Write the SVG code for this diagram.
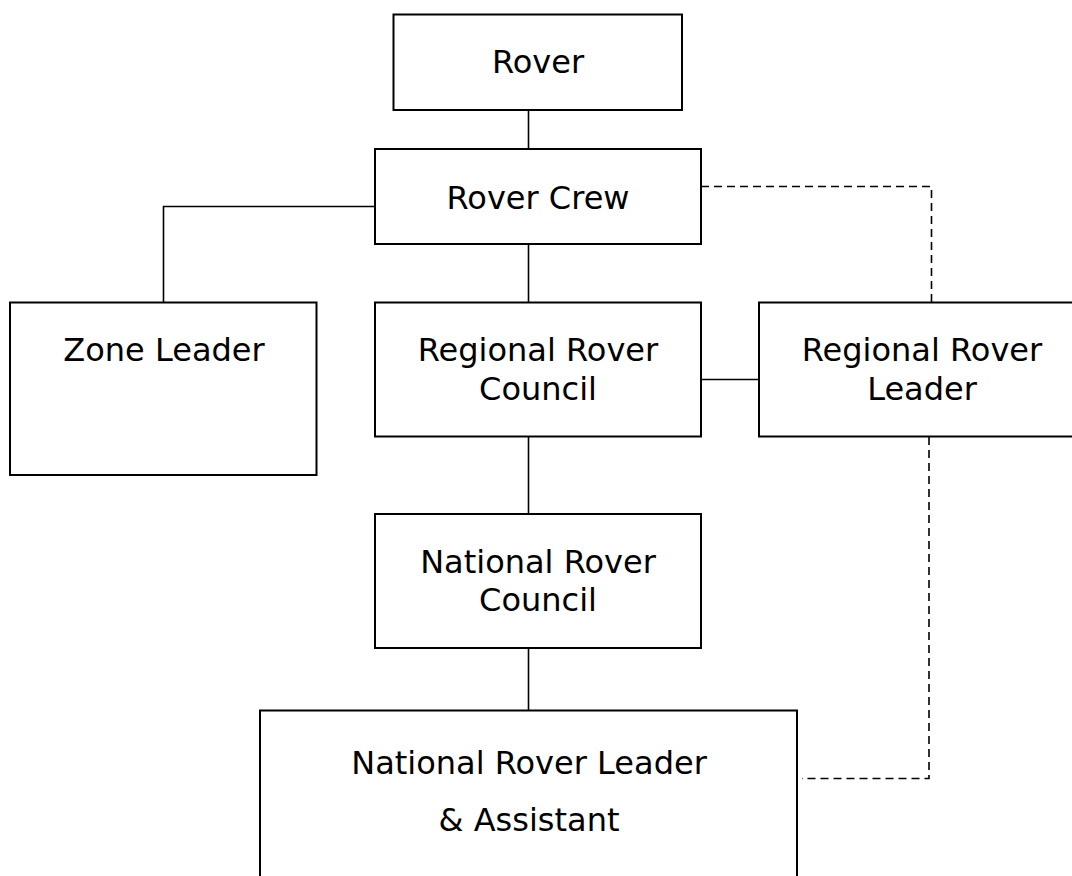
<svg xmlns="http://www.w3.org/2000/svg" width="1072" height="876" viewBox="0 0 1072 876">
<style>
.box{fill:#fff;stroke:#000;stroke-width:2}
.t{font-family:"DejaVu Sans",Verdana,sans-serif;font-size:32px;fill:#000;text-anchor:middle}
.ln{fill:none;stroke:#000;stroke-width:1.6}
.dl{fill:none;stroke:#000;stroke-width:1.6;stroke-dasharray:8 5}
</style>
<rect width="1072" height="876" fill="#fff"/>
<g id="connectors">
<line class="ln" x1="528.5" y1="110" x2="528.5" y2="149"/>
<polyline class="ln" points="375,206.5 163.5,206.5 163.5,302"/>
<line class="ln" x1="528.5" y1="244" x2="528.5" y2="302"/>
<line class="ln" x1="701" y1="379.5" x2="759" y2="379.5"/>
<line class="ln" x1="528.5" y1="437" x2="528.5" y2="514"/>
<line class="ln" x1="528.5" y1="648" x2="528.5" y2="710"/>
<polyline class="dl" points="701,186.5 931.5,186.5 931.5,302"/>
<polyline class="dl" points="929,437 929,778.5 802,778.5"/>
</g>
<g id="rover">
<rect class="box" x="393.5" y="14.5" width="288.5" height="95.5"/>
<text class="t" x="538" y="72.5">Rover</text>
</g>
<g id="rover-crew">
<rect class="box" x="375" y="149" width="326" height="95"/>
<text class="t" x="538" y="208.5">Rover Crew</text>
</g>
<g id="zone-leader">
<rect class="box" x="10" y="302.5" width="306.5" height="172.5"/>
<text class="t" x="164" y="361">Zone Leader</text>
</g>
<g id="regional-rover-council">
<rect class="box" x="375" y="302.5" width="326" height="134"/>
<text class="t" x="538" y="361">Regional Rover</text>
<text class="t" x="538" y="400">Council</text>
</g>
<g id="regional-rover-leader">
<rect class="box" x="759" y="302.5" width="330" height="134"/>
<text class="t" x="922" y="361">Regional Rover</text>
<text class="t" x="922" y="399.5">Leader</text>
</g>
<g id="national-rover-council">
<rect class="box" x="375" y="514" width="326" height="134"/>
<text class="t" x="538" y="572.5">National Rover</text>
<text class="t" x="538" y="610.5">Council</text>
</g>
<g id="national-rover-leader">
<rect class="box" x="260" y="710.5" width="537" height="200"/>
<text class="t" x="529" y="774">National Rover Leader</text>
<text class="t" x="529" y="831">&amp; Assistant</text>
</g>
</svg>
